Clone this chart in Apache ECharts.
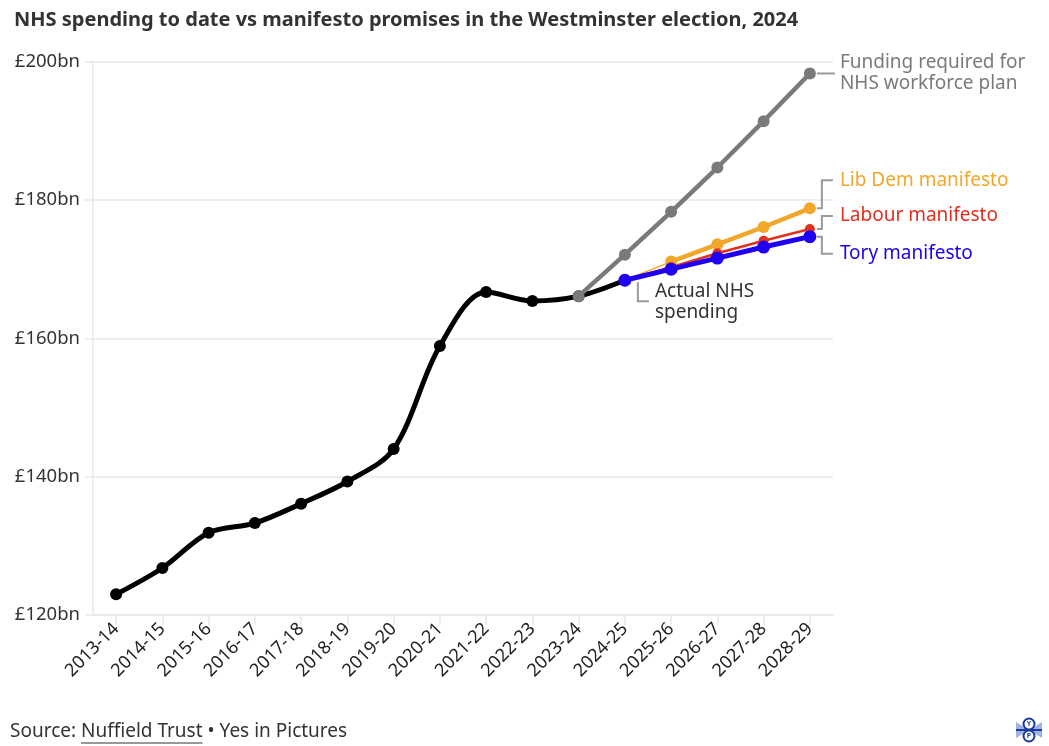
<!DOCTYPE html>
<html>
<head>
<meta charset="utf-8">
<script src="https://cdn.jsdelivr.net/npm/echarts@6/dist/echarts.min.js"></script>
<style>
html,body{margin:0;padding:0;background:#fff;}
#chart{width:1049px;height:746px;}
</style>
</head>
<body>
<div id="chart"></div>
<script>
// ---- data ----
const categories = ['2013-14','2014-15','2015-16','2016-17','2017-18','2018-19','2019-20','2020-21','2021-22','2022-23','2023-24','2024-25','2025-26','2026-27','2027-28','2028-29'];
const yTicks = [120, 140, 160, 180, 200];
// Actual NHS spending, 2013-14 .. 2024-25 (£bn)
const actualSpending = [123.0, 126.8, 131.9, 133.3, 136.1, 139.3, 144.0, 158.9, 166.7, 165.4, 166.1, 168.4];
// Funding required for NHS workforce plan, 2023-24 .. 2028-29
const workforcePlan = [166.1, 172.1, 178.3, 184.7, 191.4, 198.3];
const workforceStart = '2023-24';
// Manifestos, 2024-25 .. 2028-29
const libDem = [168.4, 171.1, 173.6, 176.1, 178.8];
const labour = [168.4, 170.3, 172.3, 174.1, 175.8];
const tory   = [168.4, 170.0, 171.6, 173.2, 174.7];
const manifestoStart = '2024-25';

const FONT = '"Noto Sans", "Open Sans", sans-serif';
const C_BLACK = '#000000', C_GREY = '#7a7a7a', C_ORANGE = '#f2a72a', C_RED = '#e2301f', C_BLUE = '#1f00f0';
const C_TEXT = '#333333', C_CONN = '#9a9a9a';
const LBL = 19;

function place(values, startCat) {
  const s = categories.indexOf(startCat);
  return categories.map((c, i) => (i >= s && i - s < values.length) ? values[i - s] : null);
}
function placeSlice(values, startCat, from, to) {
  const s = categories.indexOf(startCat);
  return categories.map((c, i) => (i - s >= from && i - s < to && i - s < values.length) ? values[i - s] : null);
}

const chart = echarts.init(document.getElementById('chart'), null, {renderer: 'canvas'});

const option = {
  animation: false,
  backgroundColor: '#ffffff',
  title: {
    text: 'NHS spending to date vs manifesto promises in the Westminster election, 2024',
    left: 9, top: 5,
    textStyle: {fontFamily: FONT, fontWeight: 'bold', fontSize: 20, color: C_TEXT}
  },
  grid: {left: 93, right: 216, top: 61.7, bottom: 131, containLabel: false},
  xAxis: {
    type: 'category',
    data: categories,
    boundaryGap: true,
    axisLine: {show: true, lineStyle: {color: '#e8e8e8', width: 1.5}},
    axisTick: {show: true, alignWithLabel: true, length: 10, lineStyle: {color: '#e8e8e8', width: 1.5}},
    axisLabel: {rotate: 45, fontFamily: FONT, fontSize: 18, color: '#222', margin: 11, interval: 0}
  },
  yAxis: {
    type: 'value',
    min: yTicks[0], max: yTicks[yTicks.length - 1], interval: 20,
    axisLine: {show: true, lineStyle: {color: '#e8e8e8', width: 1.5}},
    axisTick: {show: true, length: 8, lineStyle: {color: '#e8e8e8', width: 1.5}},
    splitLine: {show: true, lineStyle: {color: '#e8e8e8', width: 1.5}},
    axisLabel: {fontFamily: FONT, fontSize: 18.5, color: C_TEXT, margin: 13, formatter: v => '£' + v + 'bn'}
  },
  series: [
    {
      name: 'Actual NHS spending', type: 'line', smooth: 0.33,
      data: place(actualSpending, categories[0]),
      lineStyle: {color: C_BLACK, width: 5}, itemStyle: {color: C_BLACK},
      symbol: 'circle', symbolSize: 12, z: 2
    },
    {
      name: 'Funding required for NHS workforce plan', type: 'line',
      data: place(workforcePlan, workforceStart),
      lineStyle: {color: C_GREY, width: 4.5}, itemStyle: {color: C_GREY},
      symbol: 'circle', symbolSize: 12, z: 3
    },
    {
      name: 'Lib Dem link', type: 'line',
      data: placeSlice(libDem, manifestoStart, 0, 2),
      lineStyle: {color: C_ORANGE, width: 1.5}, showSymbol: false, symbol: 'none', z: 4
    },
    {
      name: 'Lib Dem manifesto', type: 'line',
      data: placeSlice(libDem, manifestoStart, 1, 99),
      lineStyle: {color: C_ORANGE, width: 4.5}, itemStyle: {color: C_ORANGE},
      symbol: 'circle', symbolSize: 12, z: 4
    },
    {
      name: 'Labour manifesto', type: 'line',
      data: place(labour, manifestoStart),
      lineStyle: {color: C_RED, width: 2.5}, itemStyle: {color: C_RED},
      symbol: 'circle', symbolSize: 10, z: 5
    },
    {
      name: 'Tory manifesto', type: 'line',
      data: place(tory, manifestoStart),
      lineStyle: {color: C_BLUE, width: 5}, itemStyle: {color: C_BLUE},
      symbol: 'circle', symbolSize: 13, z: 6
    }
  ]
};
chart.setOption(option);

// ---- annotations positioned through the chart's own scales ----
function px(cat, val) { return chart.convertToPixel({seriesIndex: 0}, [categories.indexOf(cat), val]); }
const lastCat = categories[categories.length - 1];
const elements = [];
function line(points) {
  elements.push({type: 'polyline', shape: {points: points}, style: {stroke: C_CONN, lineWidth: 2, fill: null}, z: 10});
}
function label(text, x, y, color) {
  elements.push({type: 'text', x: x, y: y, style: {text: text, fill: color, fontFamily: FONT, fontSize: LBL, lineHeight: 21, align: 'left', verticalAlign: 'middle'}, z: 10});
}
const gridRight = px(lastCat, 120)[0] + 23;
const elbowX = gridRight - 11;
const textX = gridRight + 7;

// Workforce plan
let p = px(lastCat, workforcePlan[workforcePlan.length - 1]);
line([[p[0] + 7, p[1]], [gridRight + 2, p[1]]]);
label('Funding required for\nNHS workforce plan', textX, p[1], C_GREY);

// Lib Dem
p = px(lastCat, libDem[libDem.length - 1]);
let ty = p[1] - 28;
line([[p[0] + 7, p[1]], [elbowX, p[1]], [elbowX, ty], [gridRight, ty]]);
label('Lib Dem manifesto', textX, ty, C_ORANGE);

// Labour
p = px(lastCat, labour[labour.length - 1]);
ty = p[1] - 13;
line([[p[0] + 7, p[1]], [elbowX, p[1]], [elbowX, ty], [gridRight, ty]]);
label('Labour manifesto', textX, ty, C_RED);

// Tory
p = px(lastCat, tory[tory.length - 1]);
ty = p[1] + 17;
line([[p[0] + 7, p[1]], [elbowX, p[1]], [elbowX, ty], [gridRight, ty]]);
label('Tory manifesto', textX, ty, C_BLUE);

// Actual NHS spending
p = px(manifestoStart, actualSpending[actualSpending.length - 1]);
line([[p[0] + 13, p[1] + 2], [p[0] + 13, p[1] + 21], [p[0] + 24, p[1] + 21]]);
label('Actual NHS\nspending', p[0] + 30, p[1] + 22, C_TEXT);

// Footer
const srcA = 'Source: ', srcB = 'Nuffield Trust', srcC = ' • Yes in Pictures';
const cv = document.createElement('canvas').getContext('2d');
cv.font = LBL + 'px ' + FONT;
const wA = cv.measureText(srcA).width, wB = cv.measureText(srcB).width;
const fy = 732;
elements.push({type: 'text', x: 10, y: fy, style: {text: srcA, fill: C_TEXT, fontFamily: FONT, fontSize: LBL, verticalAlign: 'middle'}});
elements.push({type: 'text', x: 10 + wA, y: fy, style: {text: srcB, fill: C_TEXT, fontFamily: FONT, fontSize: LBL, verticalAlign: 'middle'}});
elements.push({type: 'line', shape: {x1: 10 + wA, y1: fy + 11, x2: 10 + wA + wB, y2: fy + 11}, style: {stroke: C_TEXT, lineWidth: 1}});
elements.push({type: 'text', x: 10 + wA + wB, y: fy, style: {text: srcC, fill: C_TEXT, fontFamily: FONT, fontSize: LBL, verticalAlign: 'middle'}});

// Logo (small emblem)
const lx = 1029, ly = 730, navy = '#1b3a9a';
elements.push({type: 'polygon', shape: {points: [[lx - 13, ly - 8], [lx, ly], [lx - 13, ly + 8]]}, style: {fill: '#9fb4e0'}});
elements.push({type: 'polygon', shape: {points: [[lx + 13, ly - 8], [lx, ly], [lx + 13, ly + 8]]}, style: {fill: '#9fb4e0'}});
elements.push({type: 'line', shape: {x1: lx - 13, y1: ly, x2: lx + 13, y2: ly}, style: {stroke: navy, lineWidth: 2}});
elements.push({type: 'circle', shape: {cx: lx, cy: ly - 6, r: 5.5}, style: {fill: '#fff', stroke: navy, lineWidth: 2}});
elements.push({type: 'circle', shape: {cx: lx, cy: ly + 6, r: 5.5}, style: {fill: '#fff', stroke: navy, lineWidth: 2}});
elements.push({type: 'text', x: lx, y: ly - 6, style: {text: 'Y', fill: navy, fontFamily: FONT, fontSize: 7, fontWeight: 'bold', align: 'center', verticalAlign: 'middle'}});
elements.push({type: 'text', x: lx, y: ly + 6, style: {text: 'P', fill: navy, fontFamily: FONT, fontSize: 7, fontWeight: 'bold', align: 'center', verticalAlign: 'middle'}});

chart.setOption({graphic: {elements: elements}});
</script>
</body>
</html>
